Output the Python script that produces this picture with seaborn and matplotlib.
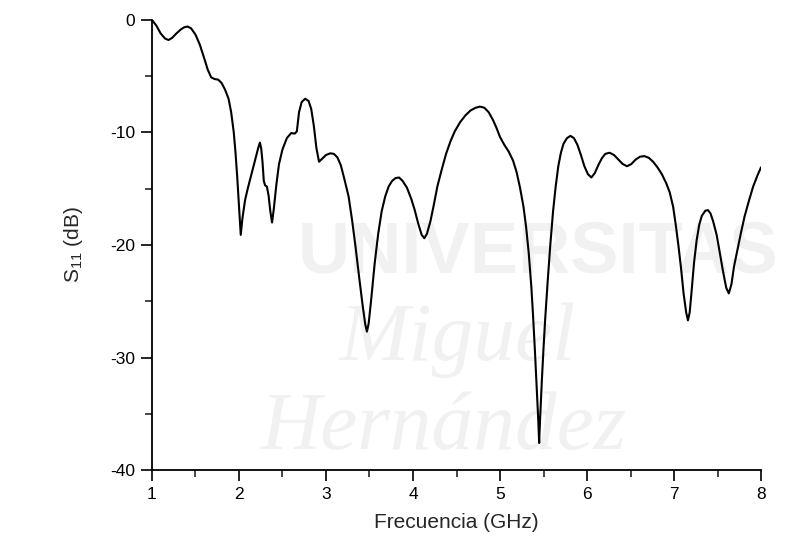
import matplotlib
matplotlib.use("Agg")
import matplotlib.pyplot as plt
from matplotlib.ticker import MultipleLocator
import pandas as pd
import seaborn as sns

# S11 trace (GHz, dB)
freq_ghz = [
    1.00, 1.05, 1.10, 1.15, 1.19, 1.23, 1.28, 1.33, 1.37, 1.41, 1.45, 1.50,
    1.55, 1.60, 1.64, 1.68, 1.72, 1.76, 1.80, 1.84, 1.88, 1.91, 1.94, 1.96,
    1.98, 2.00, 2.02, 2.04, 2.07, 2.10, 2.13, 2.16, 2.19, 2.22, 2.24, 2.255,
    2.27, 2.285, 2.30, 2.32, 2.34, 2.36, 2.38, 2.40, 2.43, 2.46, 2.50, 2.55,
    2.60, 2.64, 2.665, 2.69, 2.72, 2.76, 2.80, 2.83, 2.86, 2.89, 2.92, 2.96,
    3.00, 3.05, 3.09, 3.13, 3.17, 3.21, 3.26, 3.30, 3.34, 3.38, 3.42, 3.45,
    3.47, 3.49, 3.52, 3.56, 3.60, 3.64, 3.68, 3.72, 3.76, 3.80, 3.84, 3.88,
    3.93, 3.98, 4.02, 4.06, 4.10, 4.13, 4.16, 4.20, 4.24, 4.28, 4.33, 4.38,
    4.43, 4.48, 4.54, 4.60, 4.66, 4.72, 4.77, 4.82, 4.87, 4.92, 4.96, 5.00,
    5.05, 5.10, 5.15, 5.19, 5.23, 5.27, 5.30, 5.33, 5.36, 5.38, 5.40, 5.42,
    5.44, 5.45, 5.46, 5.48, 5.50, 5.52, 5.55, 5.58, 5.61, 5.64, 5.67, 5.70,
    5.73, 5.77, 5.81, 5.85, 5.89, 5.93, 5.97, 6.01, 6.05, 6.09, 6.13, 6.17,
    6.21, 6.26, 6.31, 6.36, 6.41, 6.46, 6.51, 6.56, 6.61, 6.66, 6.71, 6.76,
    6.81, 6.86, 6.91, 6.95, 6.99, 7.02, 7.05, 7.08, 7.11, 7.14, 7.16, 7.18,
    7.20, 7.23, 7.26, 7.29, 7.32, 7.36, 7.39, 7.42, 7.45, 7.49, 7.52, 7.56,
    7.60, 7.63, 7.66, 7.69, 7.73, 7.77, 7.81, 7.86, 7.91, 7.96, 8.00,
]
s11_db = [
    0.0, -0.5, -1.2, -1.65, -1.78, -1.6, -1.2, -0.85, -0.65, -0.58, -0.75, -1.3,
    -2.2, -3.4, -4.4, -5.1, -5.25, -5.3, -5.6, -6.2, -7.0, -8.2, -10.0, -11.8,
    -14.0, -16.5, -19.1, -17.6, -16.0, -15.0, -14.1, -13.2, -12.3, -11.4, -10.9, -11.4,
    -12.6, -14.3, -14.7, -14.8, -15.6, -17.0, -18.0, -16.8, -14.6, -12.8, -11.5, -10.5,
    -10.05, -10.1, -9.9, -8.2, -7.3, -7.0, -7.2, -7.9, -9.4, -11.4, -12.6, -12.3,
    -12.0, -11.85, -11.9, -12.2, -12.9, -14.1, -15.7, -17.8, -20.2, -22.8, -25.3, -27.0,
    -27.7, -27.0, -24.8, -21.6, -19.0, -17.0, -15.7, -14.8, -14.3, -14.05, -14.0, -14.3,
    -14.9, -15.9, -16.9, -18.1, -19.1, -19.4, -19.0, -17.9, -16.4, -14.8, -13.3, -11.9,
    -10.8, -9.9, -9.1, -8.5, -8.05, -7.8, -7.7, -7.8, -8.2, -8.9, -9.6, -10.4,
    -11.1, -11.7, -12.5, -13.5, -14.9, -16.6, -18.4, -20.7, -23.7, -26.3, -29.2, -32.4,
    -35.6, -37.6, -35.6, -32.2, -29.2, -26.5, -23.0, -19.8, -17.0, -14.8, -13.0, -11.8,
    -11.0, -10.5, -10.3, -10.5, -11.1, -12.0, -13.0, -13.7, -14.0, -13.6, -12.9, -12.3,
    -11.9, -11.8, -12.0, -12.4, -12.8, -13.0, -12.8, -12.4, -12.15, -12.1, -12.25, -12.6,
    -13.1, -13.7, -14.5, -15.3, -16.6, -18.2, -20.0, -22.0, -24.3, -26.0, -26.7, -26.0,
    -24.3, -21.6, -19.6, -18.2, -17.4, -16.95, -16.9, -17.2, -17.9, -19.1, -20.4, -22.2,
    -23.8, -24.3, -23.5, -21.9, -20.4, -18.9, -17.5, -16.1, -14.8, -13.8, -13.1,
]

df = pd.DataFrame({"freq": freq_ghz, "s11": s11_db})

sns.set_style("ticks")
plt.rcParams["font.family"] = ["Liberation Sans", "DejaVu Sans"]
plt.rcParams["axes.unicode_minus"] = False
plt.rcParams["mathtext.fontset"] = "custom"
plt.rcParams["mathtext.rm"] = "Liberation Sans"

fig = plt.figure(figsize=(7.9, 5.4), dpi=100)

# very faint watermark behind the plot
wm = "#f1f1f1"
fig.text(0.985, 0.53, "UNIVERSITAS", ha="right", va="center", fontsize=52,
         fontweight="bold", color=wm, zorder=-5)
fig.text(0.43, 0.37, "Miguel", ha="left", va="center", fontsize=60,
         fontstyle="italic", family="Liberation Serif", color=wm, zorder=-5)
fig.text(0.33, 0.205, "Hernández", ha="left", va="center", fontsize=60,
         fontstyle="italic", family="Liberation Serif", color=wm, zorder=-5)

ax = fig.add_axes([0.1924, 0.1296, 0.7709, 0.8334])
ax.patch.set_alpha(0)

sns.lineplot(data=df, x="freq", y="s11", color="black", linewidth=1.5, ax=ax)
ax.lines[0].set_solid_joinstyle("round")

ax.set_xlim(1, 8)
ax.set_ylim(-40, 0)
ax.xaxis.set_major_locator(MultipleLocator(1))
ax.xaxis.set_minor_locator(MultipleLocator(0.5))
ax.yaxis.set_major_locator(MultipleLocator(10))
ax.yaxis.set_minor_locator(MultipleLocator(5))
ax.tick_params(which="major", direction="out", length=8, width=1.2,
               labelsize=12.5, colors="black", pad=4)
ax.tick_params(which="minor", direction="out", length=5, width=1.2)

sns.despine(ax=ax)
for side in ("left", "bottom"):
    ax.spines[side].set_linewidth(1.3)
    ax.spines[side].set_color("black")

ax.set_xlabel("Frecuencia (GHz)", fontsize=15, labelpad=8)
ax.set_ylabel(r"S$_{\mathrm{11}}$ (dB)", fontsize=15, labelpad=18)

fig.savefig("out.png", dpi=100)
plt.close(fig)
